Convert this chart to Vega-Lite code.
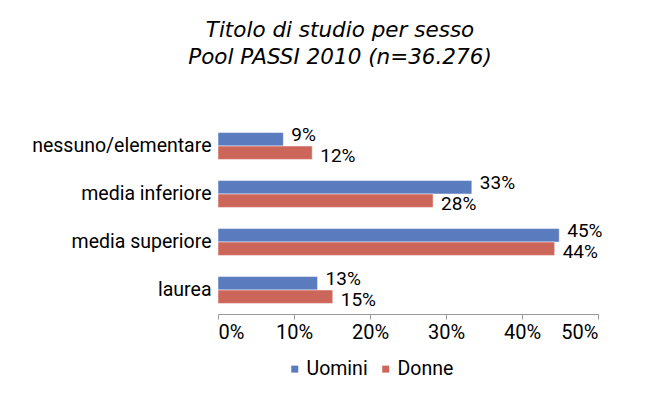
{
  "$schema": "https://vega.github.io/schema/vega-lite/v6.json",
  "autosize": {"type": "none"},
  "width": 380,
  "height": 192,
  "padding": {"left": 218, "top": 122, "right": 62, "bottom": 85},
  "background": "white",
  "title": {
    "text": ["Titolo di studio per sesso", "Pool PASSI 2010 (n=36.276)"],
    "font": "DejaVu Sans",
    "fontStyle": "italic",
    "fontWeight": "normal",
    "fontSize": 21.5,
    "lineHeight": 27,
    "color": "#000000",
    "anchor": "middle",
    "dx": -68,
    "offset": 54
  },
  "data": {
    "values": [
      {"titolo": "nessuno/elementare", "sesso": "Uomini", "pct": 8.6, "label": "9%"},
      {"titolo": "nessuno/elementare", "sesso": "Donne", "pct": 12.4, "label": "12%"},
      {"titolo": "media inferiore", "sesso": "Uomini", "pct": 33.4, "label": "33%"},
      {"titolo": "media inferiore", "sesso": "Donne", "pct": 28.3, "label": "28%"},
      {"titolo": "media superiore", "sesso": "Uomini", "pct": 44.9, "label": "45%"},
      {"titolo": "media superiore", "sesso": "Donne", "pct": 44.3, "label": "44%"},
      {"titolo": "laurea", "sesso": "Uomini", "pct": 13.1, "label": "13%"},
      {"titolo": "laurea", "sesso": "Donne", "pct": 15.1, "label": "15%"}
    ]
  },
  "encoding": {
    "y": {
      "field": "titolo",
      "type": "nominal",
      "sort": ["nessuno/elementare", "media inferiore", "media superiore", "laurea"],
      "scale": {"paddingInner": 0.44, "paddingOuter": 0.22},
      "axis": {
        "title": null,
        "domain": false,
        "ticks": false,
        "labelFont": "Roboto",
        "labelFontSize": 19.5,
        "labelColor": "#000000",
        "labelPadding": 7
      }
    },
    "yOffset": {
      "field": "sesso",
      "type": "nominal",
      "sort": ["Uomini", "Donne"],
      "scale": {"paddingInner": 0, "paddingOuter": 0}
    },
    "x": {
      "field": "pct",
      "type": "quantitative",
      "scale": {"domain": [0, 50], "nice": false},
      "axis": {
        "title": null,
        "grid": false,
        "values": [0, 10, 20, 30, 40, 50],
        "labelExpr": "datum.value + '%'",
        "domainColor": "#999999",
        "tickColor": "#999999",
        "tickSize": 5,
        "labelFont": "Roboto",
        "labelFontSize": 20,
        "labelColor": "#000000",
        "labelPadding": 3
      }
    },
    "color": {
      "field": "sesso",
      "type": "nominal",
      "sort": ["Uomini", "Donne"],
      "scale": {"domain": ["Uomini", "Donne"], "range": ["#5A7BBE", "#CD665A"]},
      "legend": {
        "title": null,
        "orient": "none",
        "legendX": 67,
        "legendY": 237,
        "direction": "horizontal",
        "symbolType": "square",
        "symbolSize": 49,
        "symbolStrokeWidth": 0,
        "labelFont": "Roboto",
        "labelFontSize": 19.5,
        "labelColor": "#000000",
        "labelOffset": 2,
        "columnPadding": 8
      }
    }
  },
  "layer": [
    {"mark": {"type": "bar", "stroke": "#ffffff", "strokeWidth": 0.5}},
    {
      "transform": [{"filter": "datum.sesso === 'Uomini'"}],
      "mark": {"type": "text", "align": "left", "baseline": "middle", "dx": 8, "dy": -4, "font": "Roboto", "fontSize": 19, "color": "#000000"},
      "encoding": {
        "text": {"field": "label"},
        "color": {"value": "#000000"}
      }
    },
    {
      "transform": [{"filter": "datum.sesso === 'Donne'"}],
      "mark": {"type": "text", "align": "left", "baseline": "middle", "dx": 8, "dy": 3, "font": "Roboto", "fontSize": 19, "color": "#000000"},
      "encoding": {
        "text": {"field": "label"},
        "color": {"value": "#000000"}
      }
    }
  ],
  "config": {"view": {"stroke": null}}
}
